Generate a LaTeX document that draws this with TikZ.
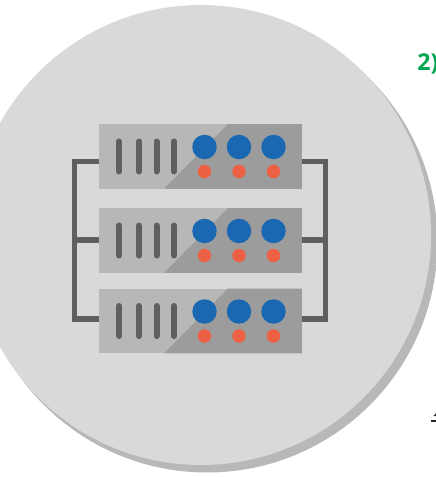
\documentclass[tikz,border=0pt]{standalone}
\usepackage{fontspec}
\setmainfont{Open Sans}
\usepackage{xcolor}
\usetikzlibrary{positioning, calc}
\definecolor{discgray}{HTML}{D9D9D7}
\definecolor{shadowgray}{HTML}{B8B8B8}
\definecolor{racklight}{HTML}{B7B7B6}
\definecolor{rackdark}{HTML}{9C9C9C}
\definecolor{wiregray}{HTML}{5F5F5E}
\definecolor{ledblue}{HTML}{1A67B2}
\definecolor{ledred}{HTML}{EC6044}
\definecolor{tagreen}{HTML}{00A651}

\begin{document}
\begin{tikzpicture}[
    x=0.02cm,
    y=-0.02cm,
    rack/.style={rectangle, fill=racklight, minimum width=4.06cm, minimum height=1.3cm, inner sep=0pt, outer sep=0pt},
    wire/.style={draw=wiregray, line width=0.118cm},
    slot/.style={draw=wiregray, line width=0.12cm, line cap=round},
    bigled/.style={circle, fill=ledblue, minimum size=0.49cm, inner sep=0pt},
    smallled/.style={circle, fill=ledred, minimum size=0.27cm, inner sep=0pt},
    tag/.style={font=\fontsize{13.2}{15}\selectfont\bfseries, text=tagreen, anchor=west, inner sep=0pt}
]
\useasboundingbox (0,0) rectangle (436,477);

% Disc with its shadow
\fill[shadowgray] (207,242) circle (230.5);
\fill[discgray] (201,235) circle (230);

% Connection points of the wires
\coordinate (leftTop) at (74.5,161.5);
\coordinate (leftMid) at (74.5,240);
\coordinate (leftBot) at (74.5,319);
\coordinate (rightTop) at (325.5,161.5);
\coordinate (rightMid) at (325.5,240);
\coordinate (rightBot) at (325.5,319);

% Servers
\foreach \n/\y in {1/156.5, 2/240.5, 3/321} {
    \node[rack] (rack\n) at (200.5,\y) {};
    \fill[rackdark] ($(rack\n.north west)+(129,0)$) -- (rack\n.north east) -- (rack\n.south east) -- ($(rack\n.south west)+(65,0)$) -- cycle;
    \foreach \x in {119,139,156.5,174} {
        \draw[slot] (\x,\y-15) -- (\x,\y+15);
    }
    \foreach \k/\x in {a/204.5, b/239, c/273.5} {
        \node[bigled] (big\n\k) at (\x,\y-9.5) {};
        \node[smallled] (small\n\k) at (\x,\y+15) {};
    }
}

% Wires
\draw[wire] (rack1.west |- leftTop) -- (leftTop) -- (leftBot) -- (rack3.west |- leftBot);
\draw[wire] (leftMid) -- (rack2.west |- leftMid);
\draw[wire] (rack1.east |- rightTop) -- (rightTop) -- (rightBot) -- (rack3.east |- rightBot);
\draw[wire] (rightMid) -- (rack2.east |- rightMid);

% Cut off label and the scraps at the edge
\node[tag] (label2) at (417,63.5) {2)};
\fill[black!85] (431,419.5) rectangle (436,421.5);
\fill[black!85] (433.5,416) -- (436,413) -- (436,416) -- cycle;

\end{tikzpicture}
\end{document}
